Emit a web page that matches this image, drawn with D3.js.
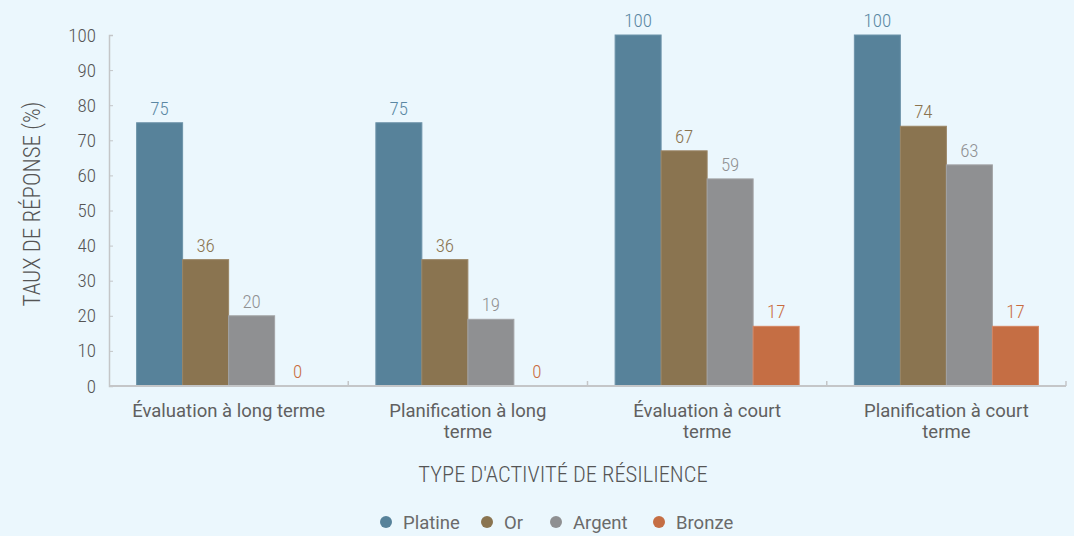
<!DOCTYPE html>
<html>
<head>
<meta charset="utf-8">
<script src="https://cdn.jsdelivr.net/npm/d3@7"></script>
<style>
  html, body { margin: 0; padding: 0; background: #ebf7fd; }
  svg { display: block; }
  text { font-family: Roboto, "Noto Sans", sans-serif; font-weight: 400; }
  .cond { font-family: "Roboto Condensed", "Liberation Sans Narrow", "DejaVu Sans Condensed", Roboto, sans-serif; font-weight: 300; }
</style>
</head>
<body>
<svg id="chart" width="1074" height="536"></svg>
<script>
// Response rate by resilience activity type and certification level
const categories = [
  ["Évaluation à long terme"],
  ["Planification à long", "terme"],
  ["Évaluation à court", "terme"],
  ["Planification à court", "terme"]
];
const seriesNames = ["Platine", "Or", "Argent", "Bronze"];
const platine = [75, 75, 100, 100];
const or = [36, 36, 67, 74];
const argent = [20, 19, 59, 63];
const bronze = [0, 0, 17, 17];
const yTicks = [0, 10, 20, 30, 40, 50, 60, 70, 80, 90, 100];

const seriesValues = [platine, or, argent, bronze];
const fills = ["#57829a", "#8a7450", "#8f9092", "#c56e44"];
const strokes = ["#6d93a9", "#9a8565", "#a2a3a5", "#d48561"];
const labelColors = ["#5a87a3", "#8a7450", "#909193", "#c96c40"];

const svg = d3.select("#chart");
const plotLeft = 109, plotRight = 1066, plotTop = 35, plotBottom = 386;

const x0 = d3.scaleBand()
  .domain(d3.range(categories.length))
  .range([plotLeft, plotRight])
  .paddingInner(0)
  .paddingOuter(0);

const x1 = d3.scaleBand()
  .domain(seriesNames)
  .range([0, x0.bandwidth()])
  .paddingInner(0)
  .paddingOuter(0.6);

const y = d3.scaleLinear().domain([0, 100]).range([plotBottom, plotTop]);

// Y axis
const yAxis = svg.append("g")
  .attr("transform", `translate(${plotLeft},0)`)
  .call(d3.axisRight(y).tickValues(yTicks).tickSize(4).tickFormat(d3.format("d")));
yAxis.select(".domain").attr("stroke", "#c4c6c8").attr("stroke-width", 1.5);
yAxis.selectAll(".tick line").attr("stroke", "#c4c6c8");
yAxis.selectAll(".tick text")
  .attr("class", "cond")
  .attr("x", -13)
  .attr("text-anchor", "end")
  .attr("fill", "#555")
  .style("font-size", "19px");

// Bars
const groups = svg.append("g").selectAll("g")
  .data(categories)
  .join("g")
  .attr("transform", (d, i) => `translate(${x0(i)},0)`);

const cells = (d, i) => seriesNames.map((s, k) => ({ s, k, v: seriesValues[k][i] }));

groups.selectAll("rect")
  .data(cells)
  .join("rect")
  .attr("x", d => x1(d.s))
  .attr("y", d => y(d.v))
  .attr("width", x1.bandwidth())
  .attr("height", d => plotBottom - y(d.v))
  .attr("fill", d => fills[d.k])
  .attr("stroke", d => d.v > 0 ? strokes[d.k] : "none")
  .attr("stroke-width", 1);

groups.selectAll("text.val")
  .data(cells)
  .join("text")
  .attr("class", "val cond")
  .attr("x", d => x1(d.s) + x1.bandwidth() / 2)
  .attr("y", d => y(d.v) - 8)
  .attr("text-anchor", "middle")
  .attr("fill", d => labelColors[d.k])
  .style("font-size", "19px")
  .text(d => d.v);

// X axis
const xAxis = svg.append("g")
  .attr("transform", `translate(0,${plotBottom})`);
xAxis.append("line")
  .attr("x1", plotLeft).attr("x2", plotRight)
  .attr("stroke", "#c4c6c8").attr("stroke-width", 2);
xAxis.selectAll("line.tick")
  .data(d3.range(1, categories.length + 1))
  .join("line")
  .attr("class", "tick")
  .attr("x1", i => i < categories.length ? x0(i) : plotRight)
  .attr("x2", i => i < categories.length ? x0(i) : plotRight)
  .attr("y1", 0).attr("y2", -5)
  .attr("stroke", "#c4c6c8").attr("stroke-width", 1.5);

const catLabels = xAxis.selectAll("text.cat")
  .data(categories)
  .join("text")
  .attr("class", "cat")
  .attr("text-anchor", "middle")
  .attr("fill", "#606060")
  .style("font-size", "18.5px")
  .attr("transform", (d, i) => `translate(${x0(i) + x0.bandwidth() / 2},31)`);
catLabels.selectAll("tspan")
  .data(d => d)
  .join("tspan")
  .attr("x", 0)
  .attr("dy", (d, j) => j === 0 ? 0 : 21)
  .text(d => d);

// Axis titles
svg.append("text")
  .attr("class", "cond")
  .attr("x", 563).attr("y", 482)
  .attr("text-anchor", "middle")
  .attr("fill", "#555")
  .style("font-size", "22.5px")
  .text("TYPE D'ACTIVITÉ DE RÉSILIENCE");

svg.append("text")
  .attr("class", "cond")
  .attr("transform", "translate(40,204) rotate(-90)")
  .attr("text-anchor", "middle")
  .attr("fill", "#555")
  .style("font-size", "23px")
  .text("TAUX DE RÉPONSE (%)");

// Legend
const legendX = [386, 487, 556, 659];
const legend = svg.append("g").selectAll("g")
  .data(seriesNames)
  .join("g")
  .attr("transform", (d, i) => `translate(${legendX[i]},522)`);
legend.append("circle").attr("r", 6).attr("fill", (d, i) => fills[i]);
legend.append("text")
  .attr("x", 17).attr("y", 6.5)
  .attr("fill", "#6a6a6a")
  .style("font-size", "18.5px")
  .text(d => d);
</script>
</body>
</html>
